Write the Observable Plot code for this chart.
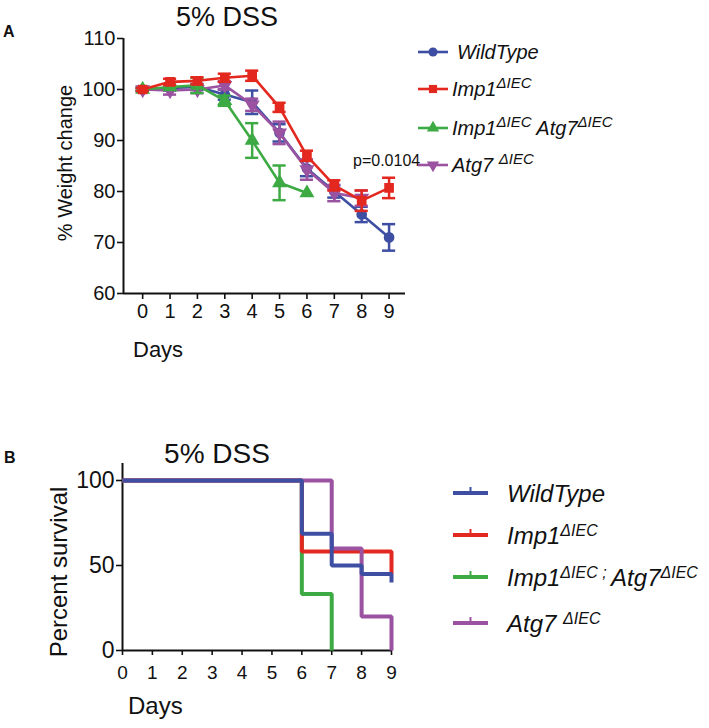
<!DOCTYPE html>
<html><head><meta charset="utf-8">
<script src="https://cdn.jsdelivr.net/npm/d3@7"></script>
<script src="https://cdn.jsdelivr.net/npm/@observablehq/plot@0.6"></script>
<style>
body{margin:0;background:#fff}
#wrap{position:relative;width:709px;height:728px;overflow:hidden;font-family:"Liberation Sans",Arial,sans-serif}
#wrap svg{position:absolute;left:0}
</style>
</head><body><div id="wrap"></div>
<script>
// ---------- data ----------
const days = [0,1,2,3,4,5,6,7,8,9];
const seriesNames = ["WildType","Imp1","Imp1;Atg7","Atg7"];
const seriesColors = ["#3e4fa3","#e3281f","#3daa44","#9a52a1"];

// Panel A: % weight change (mean, sem)
const wildTypeWeight = [100,100.3,100.5,99,97.5,91.5,84.5,80,75.5,71];
const wildTypeSem    = [0.3,0.5,0.6,1.0,2.3,1.7,1.5,1.2,1.5,2.6];
const imp1Weight     = [100,101.5,101.7,102.3,102.7,96.5,87,81.2,78.2,80.7];
const imp1Sem        = [0.3,0.6,0.7,0.8,1.0,0.9,1.0,1.0,2.0,2.0];
const dkoWeight      = [100,100.5,100.8,97.8,90,81.7,79.7];
const dkoSem         = [0.3,0.5,1.5,1.0,3.4,3.4,0];
const atg7Weight     = [100,99.8,100,100.8,97,91.5,84.3,79.7,78.7];
const atg7Sem        = [0.3,0.8,0.7,0.8,1.2,2.2,2.0,1.6,1.5];
const weightTicks = [60,70,80,90,100,110];

// Panel B: percent survival (step points)
const wtSurvDays = [0,6,7,8,9],   wtSurv = [100,68.75,50,45,40];
const imp1SurvDays = [0,6,9],     imp1Surv = [100,58.3,45];
const dkoSurvDays = [0,6,7],      dkoSurv = [100,33.3,0];
const atg7SurvDays = [0,7,8,9],   atg7Surv = [100,60,20,0];
const survTicks = [0,50,100];

// ---------- build tables ----------
function weightRows(name, means, sems){
  return means.map((m,i)=>({series:name, day:days[i], mean:m, sem:sems[i]}));
}
const weightSets = [
  {rows: weightRows("WildType", wildTypeWeight, wildTypeSem), color: seriesColors[0], symbol:"circle", rotate:0},
  {rows: weightRows("Atg7", atg7Weight, atg7Sem), color: seriesColors[3], symbol:"triangle", rotate:180},
  {rows: weightRows("Imp1;Atg7", dkoWeight, dkoSem), color: seriesColors[2], symbol:"triangle", rotate:0},
  {rows: weightRows("Imp1", imp1Weight, imp1Sem), color: seriesColors[1], symbol:"square", rotate:0}
];
function survRows(name, ds, vs){ return ds.map((d,i)=>({series:name, day:d, pct:vs[i]})); }
const survSets = [
  {rows: survRows("Imp1;Atg7", dkoSurvDays, dkoSurv), color: seriesColors[2]},
  {rows: survRows("Imp1", imp1SurvDays, imp1Surv), color: seriesColors[1]},
  {rows: survRows("Atg7", atg7SurvDays, atg7Surv), color: seriesColors[3]},
  {rows: survRows("WildType", wtSurvDays, wtSurv), color: seriesColors[0]}
];

const FONT = '"Liberation Sans", Arial, sans-serif';
const wrap = document.getElementById("wrap");

// ---------- Panel A ----------
const marksA = [
  Plot.axisX({ticks: days, tickFormat: d=>String(d), tickSize:6, tickPadding:4, fontSize:20, label:null, color:"#111", strokeWidth:1.6}),
  Plot.axisY({ticks: weightTicks, tickSize:6, tickPadding:2, fontSize:20, label:null, color:"#111", strokeWidth:1.6}),
  Plot.ruleY([60], {stroke:"#111", strokeWidth:2}),
  Plot.ruleX([-0.7], {stroke:"#111", strokeWidth:2})
];
for (const s of weightSets){
  const bars = s.rows.filter(d=>d.sem>0.05);
  marksA.push(
    Plot.line(s.rows, {x:"day", y:"mean", stroke:s.color, strokeWidth:2.6}),
    Plot.ruleX(bars, {x:"day", y1:d=>d.mean-d.sem, y2:d=>d.mean+d.sem, stroke:s.color, strokeWidth:2.5}),
    Plot.ruleY(bars, {y:d=>d.mean+d.sem, x1:d=>d.day-0.24, x2:d=>d.day+0.24, stroke:s.color, strokeWidth:2.5}),
    Plot.ruleY(bars, {y:d=>d.mean-d.sem, x1:d=>d.day-0.24, x2:d=>d.day+0.24, stroke:s.color, strokeWidth:2.5}),
    Plot.dot(s.rows, {x:"day", y:"mean", fill:s.color, stroke:s.color, symbol:s.symbol, r:4.6, rotate:s.rotate})
  );
}
const plotA = Plot.plot({
  width:709, height:370,
  marginLeft:123, marginRight:304, marginTop:38, marginBottom:77,
  x:{domain:[-0.7,9.6]}, y:{domain:[60,110]},
  style:{fontFamily:FONT, fontSize:"20px", background:"transparent", overflow:"visible", color:"#111"},
  marks: marksA
});
plotA.style.top = "0px";
wrap.appendChild(plotA);

// ---------- Panel B ----------
const marksB = [
  Plot.axisX({ticks: days, tickFormat: d=>String(d), tickSize:5, tickPadding:10, fontSize:19, label:null, color:"#111", strokeWidth:1.6}),
  Plot.axisY({ticks: survTicks, tickSize:6, tickPadding:2, fontSize:23, label:null, color:"#111", strokeWidth:1.6}),
  Plot.ruleY([0], {stroke:"#111", strokeWidth:2}),
  Plot.ruleX([0], {stroke:"#111", strokeWidth:2})
];
for (const s of survSets){
  marksB.push(Plot.line(s.rows, {x:"day", y:"pct", stroke:s.color, strokeWidth:4, curve:"step-after", strokeLinejoin:"miter", strokeLinecap:"butt"}));
}
const plotB = Plot.plot({
  width:709, height:358,
  marginLeft:122, marginRight:318, marginTop:93, marginBottom:78,
  x:{domain:[0,9]}, y:{domain:[0,110]},
  style:{fontFamily:FONT, fontSize:"20px", background:"transparent", overflow:"visible", color:"#111"},
  marks: marksB
});
plotB.style.top = "370px";
wrap.appendChild(plotB);

// ---------- text overlay & legends ----------
const ov = d3.create("svg").attr("width",709).attr("height",728)
  .style("top","0px").style("pointer-events","none")
  .attr("font-family", FONT).attr("fill","#111");

function txt(x,y,s,size,opts={}){
  const t = ov.append("text").attr("x",x).attr("y",y).attr("font-size",size).text(s);
  if (opts.anchor) t.attr("text-anchor",opts.anchor);
  if (opts.bold) t.attr("font-weight","bold");
  if (opts.rotate) t.attr("transform",`rotate(-90 ${x} ${y})`);
  return t;
}
txt(227,26,"5% DSS",27,{anchor:"middle"});
txt(3,37,"A",16,{bold:true});
txt(72,163,"% Weight change",20,{anchor:"middle",rotate:true});
txt(133,357,"Days",22);
txt(353,166,"p=0.0104",16);

txt(217,463,"5% DSS",28,{anchor:"middle"});
txt(4,463,"B",16,{bold:true});
txt(67,572,"Percent survival",24,{anchor:"middle",rotate:true});
txt(128,714,"Days",24);

function richText(x,y,parts,size,supSize,raise){
  const t = ov.append("text").attr("x",x).attr("y",y).attr("font-size",size).attr("font-style","italic");
  let up = false;
  for (const [s,sup] of parts){
    const sp = t.append("tspan").text(s);
    if (sup && !up){ sp.attr("dy",-raise).attr("font-size",supSize); up=true; }
    else if (sup){ sp.attr("font-size",supSize); }
    else if (!sup && up){ sp.attr("dy",raise); up=false; }
  }
}
const legendParts = [
  [["WildType",false]],
  [["Imp1",false],["\u0394IEC",true]],
  [["Imp1",false],["\u0394IEC",true],[" Atg7",false],["\u0394IEC",true]],
  [["Atg7 ",false],["\u0394IEC",true]]
];
const legendPartsB = [
  [["WildType",false]],
  [["Imp1",false],["\u0394IEC",true]],
  [["Imp1",false],["\u0394IEC ; ",true],["Atg7",false],["\u0394IEC",true]],
  [["Atg7 ",false],["\u0394IEC",true]]
];
const symA = [d3.symbolCircle, d3.symbolSquare, d3.symbolTriangle, d3.symbolTriangle];
const rotA = [0,0,0,180];
const rowA = [52,89,128,165];
const xTextA = [457,452,452,452];
rowA.forEach((y,i)=>{
  const c = seriesColors[i];
  ov.append("line").attr("x1",418).attr("x2",448).attr("y1",y).attr("y2",y).attr("stroke",c).attr("stroke-width",2.6);
  ov.append("path").attr("d", d3.symbol(symA[i], 66)()).attr("fill",c)
    .attr("transform",`translate(433,${y}) rotate(${rotA[i]})`);
  richText(xTextA[i], y+7, legendParts[i], 20, 15, 8);
});
const rowB = [493,535,577,623];
rowB.forEach((y,i)=>{
  const c = seriesColors[i];
  ov.append("line").attr("x1",453).attr("x2",488).attr("y1",y).attr("y2",y).attr("stroke",c).attr("stroke-width",4);
  ov.append("line").attr("x1",470.5).attr("x2",470.5).attr("y1",y).attr("y2",y-6).attr("stroke",c).attr("stroke-width",2);
  richText(507, y+9, legendPartsB[i], 24, 16, 8);
});
wrap.appendChild(ov.node());
</script></body></html>
